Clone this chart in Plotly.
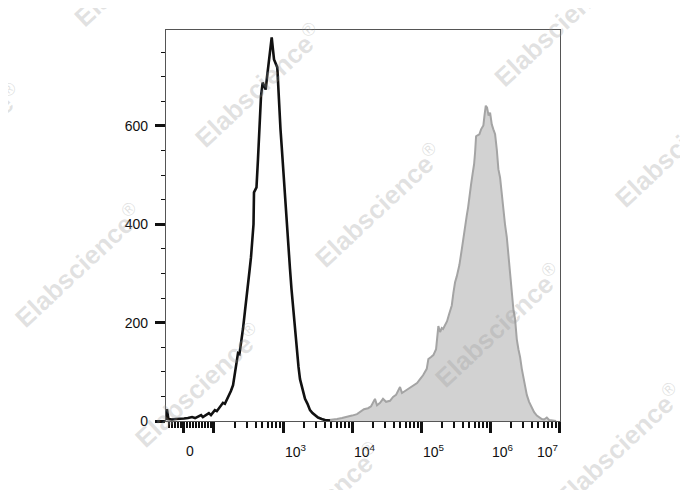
import numpy as np
import plotly.graph_objects as go

# ---------------- data (raw fluorescence intensity, event counts) ----------------
black_x = [-60, -57, -52, -40, -27, -13, 0, 13, 27, 37, 47, 57, 63, 73, 83, 90, 97, 103, 110, 118,
           126, 135, 144, 154, 165, 176, 189, 202, 212, 223, 234, 246, 263, 281, 296, 311, 327, 344,
           361, 374, 380, 413, 434, 456, 480, 508, 530, 561, 586, 612, 648, 686, 716, 741, 827, 875,
           920, 958, 1017, 1069, 1143, 1202, 1263, 1328, 1411, 1493, 1580, 1677, 1764, 1917, 2084,
           2265, 2462, 2677, 2910, 3216, 3638, 4062, 4800]
black_y = [2, 24, 4, 3, 4, 4, 5, 6, 8, 6, 9, 12, 8, 12, 16, 12, 18, 22, 20, 26,
           32, 37, 35, 43, 51, 61, 73, 97, 122, 138, 136, 156, 187, 223, 248, 274, 305, 333,
           365, 400, 465, 475, 532, 593, 660, 688, 682, 674, 698, 725, 751, 780, 755, 735, 719, 643,
           593, 558, 501, 451, 394, 345, 309, 268, 227, 181, 140, 110, 85, 63, 45,
           35, 22, 16, 11, 7, 4, 2, 1]

gray_x = [4060, 5130, 6060, 7160, 8460, 10000, 11800, 13500, 14900, 17100, 18900, 21500, 23000,
          25500, 28100, 31100, 35500, 39300, 43400, 49600, 53000, 58600, 64800, 71600, 79200, 87500,
          96700, 106900, 120900, 127600, 139600, 150800, 165000, 173400, 178100, 188500, 199500,
          208400, 222800, 238100, 254600, 278600, 293800, 311000, 329200, 343800, 359100, 389000,
          406200, 420000, 441500, 459600, 479900, 501200, 530400, 561400, 586300, 606200, 626800,
          659000, 699800, 740700, 799600, 832500, 866500, 904700, 951200, 1000000, 1058000, 1116000,
          1182000, 1251000, 1319000, 1396000, 1468000, 1559000, 1650000, 1746000, 1842000, 1950000,
          2063000, 2176000, 2303000, 2438000, 2572000, 2722000, 2880000, 3038000, 3216000, 3403000,
          3675000, 4021000, 4342000, 4752000, 5130000, 5614000, 6062000, 6632000, 7164000, 8185000,
          9047000]
gray_y = [1, 2, 4, 6, 8, 11, 14, 20, 24, 26, 30, 45, 32, 37, 45, 39, 41, 49, 53, 69,
          57, 61, 65, 69, 73, 77, 85, 93, 106, 126, 130, 134, 146, 177, 193, 181, 189, 187, 195, 203,
          217, 235, 260, 282, 294, 305, 317, 349, 369, 384, 406, 418, 434, 451, 481, 505, 522, 546,
          579, 581, 583, 593, 601, 623, 641, 637, 621, 627, 603, 593, 583, 552, 512, 495, 461, 426,
          398, 374, 339, 300, 264, 227, 207, 166, 146, 130, 106, 89, 69, 53, 39, 28, 18, 11, 7, 4,
          3, 7, 2, 1, 0]

x_major_vals = [0, 100, 1e3, 1e4, 1e5, 1e6, 1e7]
x_label_vals = [0, 1e3, 1e4, 1e5, 1e6, 1e7]
x_label_text = ["0", "10<sup>3</sup>", "10<sup>4</sup>", "10<sup>5</sup>", "10<sup>6</sup>", "10<sup>7</sup>"]
y_tick_vals = [0, 200, 400, 600]
x_range_raw = [-60, 1.03e7]
y_range = [0, 795]
watermark_text = "<b>Elabscience</b><sup>®</sup>"

# ---------------- biexponential-like display transform ----------------
LIN = 100.0


def tr(v):
    v = np.asarray(v, dtype=float)
    a = np.abs(v)
    lin = v / (LIN * np.log(10))
    lg = np.sign(v) * (np.log10(np.maximum(a, 1e-12) / LIN) + 1 / np.log(10))
    return np.where(a <= LIN, lin, lg)


minor_raw = list(range(-50, 0, 10)) + list(range(10, 100, 10))
for k in range(2, 7):
    minor_raw += [m * 10 ** k for m in range(2, 10)]

fig = go.Figure()
fig.add_trace(go.Scatter(x=tr(gray_x), y=gray_y, mode="lines", fill="tozeroy",
                         fillcolor="#d2d2d2", line=dict(color="#a4a4a4", width=2),
                         hoverinfo="skip", showlegend=False))
fig.add_trace(go.Scatter(x=tr(black_x), y=black_y, mode="lines",
                         line=dict(color="#111111", width=2.6),
                         hoverinfo="skip", showlegend=False))

OFF = 8  # page body margin
W, H = 688, 490
L, T = 166 - OFF, 30 - OFF
R = W - (560 - OFF)
B = H - (421 - OFF)
pw, ph = W - L - R, H - T - B

annotations = []
# x tick labels
anchors = ["center", "left", "left", "left", "left", "right"]
shifts = [6, 0, 0, 0, 0, 1]
for v, t, a, s in zip(x_label_vals, x_label_text, anchors, shifts):
    annotations.append(dict(x=float(tr(v)), xref="x", y=0, yref="paper", text=t,
                            showarrow=False, xanchor=a, yanchor="middle", xshift=s, yshift=-30,
                            font=dict(family="Liberation Sans, Arial", size=14, color="#111")))

# watermark grid (screen pixel centres)
for i in range(-2, 5):
    for j in range(-2, 3):
        px = 258 + 120 * i - 180 * j
        py = 85 + 120 * i + 180 * j
        if -60 < px < 700 and -40 < py < 510:
            annotations.append(dict(x=(px - OFF - L) / pw, y=(H - B - (py - OFF)) / ph,
                                    xref="paper", yref="paper",
                                    text=watermark_text, showarrow=False,
                                    textangle=-43, xanchor="center", yanchor="middle",
                                    font=dict(family="Liberation Sans, Arial", size=26,
                                              color="rgba(150,150,150,0.28)")))

fig.update_layout(
    width=W, height=H,
    margin=dict(l=L, r=R, t=T, b=B),
    paper_bgcolor="white", plot_bgcolor="white",
    font=dict(family="Liberation Sans, Arial", size=14, color="#111"),
    annotations=annotations,
    xaxis=dict(range=[float(tr(x_range_raw[0])), float(tr(x_range_raw[1]))],
               showgrid=False, zeroline=False, showline=True, linecolor="#555", linewidth=1.2,
               mirror=True, tickmode="array", tickvals=[float(v) for v in tr(x_major_vals)],
               showticklabels=False, ticks="outside", ticklen=11, tickwidth=2.5, tickcolor="#111",
               minor=dict(tickmode="array", tickvals=[float(v) for v in tr(minor_raw)],
                          ticks="outside", ticklen=6, tickwidth=1.8, tickcolor="#111")),
    yaxis=dict(range=y_range, showgrid=False, zeroline=False, showline=True, linecolor="#555",
               linewidth=1.2, mirror=True, tickmode="array", tickvals=y_tick_vals,
               ticks="outside", ticklen=10, tickwidth=2.5, tickcolor="#111",
               ticklabelstandoff=4,
               minor=dict(dtick=50, ticks="outside", ticklen=4, tickwidth=1, tickcolor="#111")),
)

fig.write_html("out.html")
